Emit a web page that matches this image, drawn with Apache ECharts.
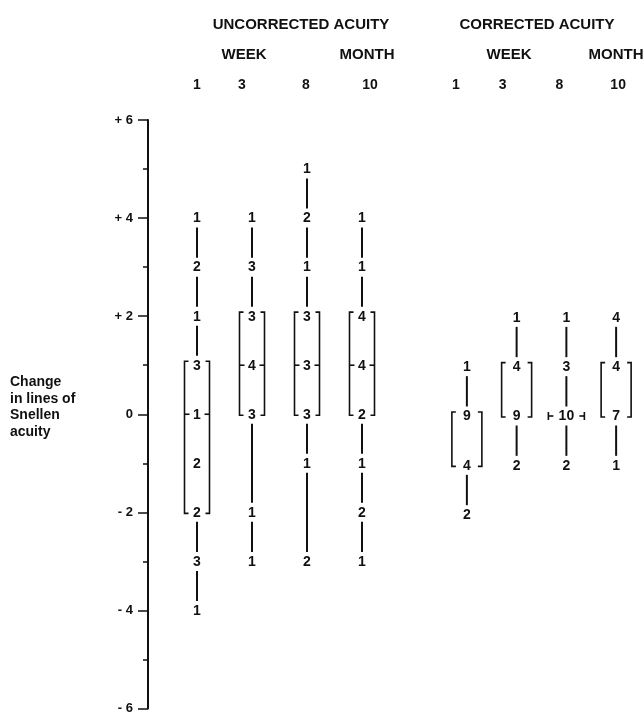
<!DOCTYPE html>
<html>
<head>
<meta charset="utf-8">
<script src="https://cdn.jsdelivr.net/npm/echarts@6/dist/echarts.min.js"></script>
<style>
html,body{margin:0;padding:0;background:#fff;}
#chart{width:644px;height:715px;}
</style>
</head>
<body>
<div id="chart"></div>
<script>
// ---------- data ----------
const weekLabels = ['1', '3', '8', '10'];
const yTicks = [-6, -4, -2, 0, 2, 4, 6];

// Uncorrected acuity: change values (lines) and number of eyes at each
const uncValues = [
  [4, 3, 2, 1, 0, -1, -2, -3, -4],
  [4, 3, 2, 1, 0, -2, -3],
  [5, 4, 3, 2, 1, 0, -1, -3],
  [4, 3, 2, 1, 0, -1, -2, -3]
];
const uncCounts = [
  [1, 2, 1, 3, 1, 2, 2, 3, 1],
  [1, 3, 3, 4, 3, 1, 1],
  [1, 2, 1, 3, 3, 3, 1, 2],
  [1, 1, 4, 4, 2, 1, 2, 1]
];
const uncQ3 = [1, 2, 2, 2];
const uncQ1 = [-2, 0, 0, 0];
const uncMedian = [0, 1, 1, 1];

// Corrected acuity
const corValues = [
  [1, 0, -1, -2],
  [2, 1, 0, -1],
  [2, 1, 0, -1],
  [2, 1, 0, -1]
];
const corCounts = [
  [1, 9, 4, 2],
  [1, 4, 9, 2],
  [1, 3, 10, 2],
  [4, 4, 7, 1]
];
const corQ3 = [0, 1, 0, 1];
const corQ1 = [-1, 0, 0, 0];
const corMedian = [null, null, 0, null];

// ---------- styling / layout ----------
const FONT_FAMILY = '"Liberation Sans", Arial, Helvetica, sans-serif';
const INK = '#111';
const numFont = 'bold 14px ' + FONT_FAMILY;
const uncHeaderNudge = [0, -10, -1, 8];
const corHeaderNudge = [-11, -14, -7, 2];

function makeRich(nudges, g) {
  const rich = {};
  nudges.forEach((n, i) => {
    rich['h' + g + i] = {
      fontWeight: 'bold', fontSize: 14, fontFamily: FONT_FAMILY, color: INK,
      padding: n >= 0 ? [0, 0, 0, 2 * n] : [0, -2 * n, 0, 0]
    };
  });
  return rich;
}

function makeRender(values, counts, q3, q1, med, hw) {
  return function (params, api) {
    const i = params.dataIndex;
    const vals = values[i], cnts = counts[i];
    const cx = api.coord([i, 0])[0];
    const yOf = v => api.coord([i, v])[1];
    const children = [];
    const gap = 9.5;
    const top = q3[i], bot = q1[i], m = med[i];
    vals.forEach((v, k) => {
      const y = yOf(v);
      children.push({
        type: 'text',
        style: {
          text: String(cnts[k]), x: cx, y: y + 0.5,
          textAlign: 'center', textVerticalAlign: 'middle',
          align: 'center', verticalAlign: 'middle',
          font: numFont, fill: INK
        }
      });
      if (k < vals.length - 1) {
        const v2 = vals[k + 1];
        const inBox = v <= top && v >= bot && v2 <= top && v2 >= bot;
        if (!inBox) {
          const y2 = yOf(v2);
          children.push({
            type: 'line',
            shape: { x1: cx, y1: y + gap, x2: cx, y2: y2 - gap },
            style: { stroke: INK, lineWidth: 2 }
          });
        }
      }
    });
    const lw = 1.6;
    if (top === bot) {
      // collapsed box: |-- n --|
      const y = yOf(top);
      const h = 18;
      const xl = cx - h, xr = cx + h;
      children.push({ type: 'line', shape: { x1: xl, y1: y - 4, x2: xl, y2: y + 4 }, style: { stroke: INK, lineWidth: lw } });
      children.push({ type: 'line', shape: { x1: xl, y1: y, x2: xl + 5, y2: y }, style: { stroke: INK, lineWidth: lw } });
      children.push({ type: 'line', shape: { x1: xr, y1: y - 4, x2: xr, y2: y + 4 }, style: { stroke: INK, lineWidth: lw } });
      children.push({ type: 'line', shape: { x1: xr - 5, y1: y, x2: xr, y2: y }, style: { stroke: INK, lineWidth: lw } });
    } else {
      const yt = yOf(top) - 4, yb = yOf(bot) + 1;
      const xl = cx - hw, xr = cx + hw, s = 4;
      children.push({
        type: 'polyline',
        shape: { points: [[xl + s, yt], [xl, yt], [xl, yb], [xl + s, yb]] },
        style: { stroke: INK, lineWidth: lw, fill: null }
      });
      children.push({
        type: 'polyline',
        shape: { points: [[xr - s, yt], [xr, yt], [xr, yb], [xr - s, yb]] },
        style: { stroke: INK, lineWidth: lw, fill: null }
      });
      if (m !== null && m !== undefined) {
        const ym = yOf(m);
        children.push({ type: 'line', shape: { x1: xl, y1: ym, x2: xl + 5, y2: ym }, style: { stroke: INK, lineWidth: lw } });
        children.push({ type: 'line', shape: { x1: xr - 5, y1: ym, x2: xr, y2: ym }, style: { stroke: INK, lineWidth: lw } });
      }
    }
    return { type: 'group', children: children };
  };
}

const chart = echarts.init(document.getElementById('chart'), null, { renderer: 'canvas' });

const yAxisBase = {
  type: 'value', min: yTicks[0], max: yTicks[yTicks.length - 1], interval: 2,
  splitLine: { show: false }
};

const headerText = (text, x, y, size) => ({
  type: 'text', x: x, y: y,
  style: {
    text: text, font: 'bold ' + size + 'px ' + FONT_FAMILY, fill: INK,
    textAlign: 'center', textVerticalAlign: 'middle', align: 'center', verticalAlign: 'middle'
  }
});

const option = {
  backgroundColor: '#fff',
  animation: false,
  grid: [
    { left: 169.5, width: 220, top: 120, bottom: 3 },
    { left: 442, width: 199, top: 120, bottom: 3 }
  ],
  xAxis: [
    {
      type: 'category', gridIndex: 0, data: weekLabels, position: 'top',
      axisLine: { show: false }, axisTick: { show: false },
      axisLabel: {
        margin: 28, interval: 0,
        formatter: (v, i) => '{h0' + i + '|' + v + '}',
        rich: makeRich(uncHeaderNudge, 0)
      }
    },
    {
      type: 'category', gridIndex: 1, data: weekLabels, position: 'top',
      axisLine: { show: false }, axisTick: { show: false },
      axisLabel: {
        margin: 28, interval: 0,
        formatter: (v, i) => '{h1' + i + '|' + v + '}',
        rich: makeRich(corHeaderNudge, 1)
      }
    }
  ],
  yAxis: [
    Object.assign({}, yAxisBase, {
      gridIndex: 0, offset: 21.5,
      axisLine: { show: true, lineStyle: { color: INK, width: 2 } },
      axisTick: { show: true, length: 10, lineStyle: { color: INK, width: 1.5 } },
      minorTick: { show: true, splitNumber: 2, length: 5, lineStyle: { color: INK, width: 1.5 } },
      axisLabel: {
        margin: 15, color: INK, fontWeight: 'bold', fontSize: 13, fontFamily: FONT_FAMILY,
        formatter: v => v > 0 ? '+ ' + v : (v < 0 ? '- ' + Math.abs(v) : '0')
      }
    }),
    Object.assign({}, yAxisBase, { gridIndex: 1, show: false })
  ],
  graphic: [
    headerText('UNCORRECTED ACUITY', 301, 25, 15),
    headerText('CORRECTED ACUITY', 537, 25, 15),
    headerText('WEEK', 244, 55, 15),
    headerText('MONTH', 367, 55, 15),
    headerText('WEEK', 509, 55, 15),
    headerText('MONTH', 616, 55, 15),
    {
      type: 'text', left: 10, top: 374,
      style: {
        text: 'Change\nin lines of\nSnellen\nacuity',
        font: 'bold 14px ' + FONT_FAMILY, fill: INK, lineHeight: 16.5
      }
    }
  ],
  series: [
    {
      type: 'custom', xAxisIndex: 0, yAxisIndex: 0,
      data: weekLabels.map((w, i) => [i, uncMedian[i]]),
      encode: { x: 0, y: 1 },
      renderItem: makeRender(uncValues, uncCounts, uncQ3, uncQ1, uncMedian, 12.5)
    },
    {
      type: 'custom', xAxisIndex: 1, yAxisIndex: 1,
      data: weekLabels.map((w, i) => [i, corQ1[i]]),
      encode: { x: 0, y: 1 },
      renderItem: makeRender(corValues, corCounts, corQ3, corQ1, corMedian, 15)
    }
  ]
};
chart.setOption(option);
</script>
</body>
</html>
